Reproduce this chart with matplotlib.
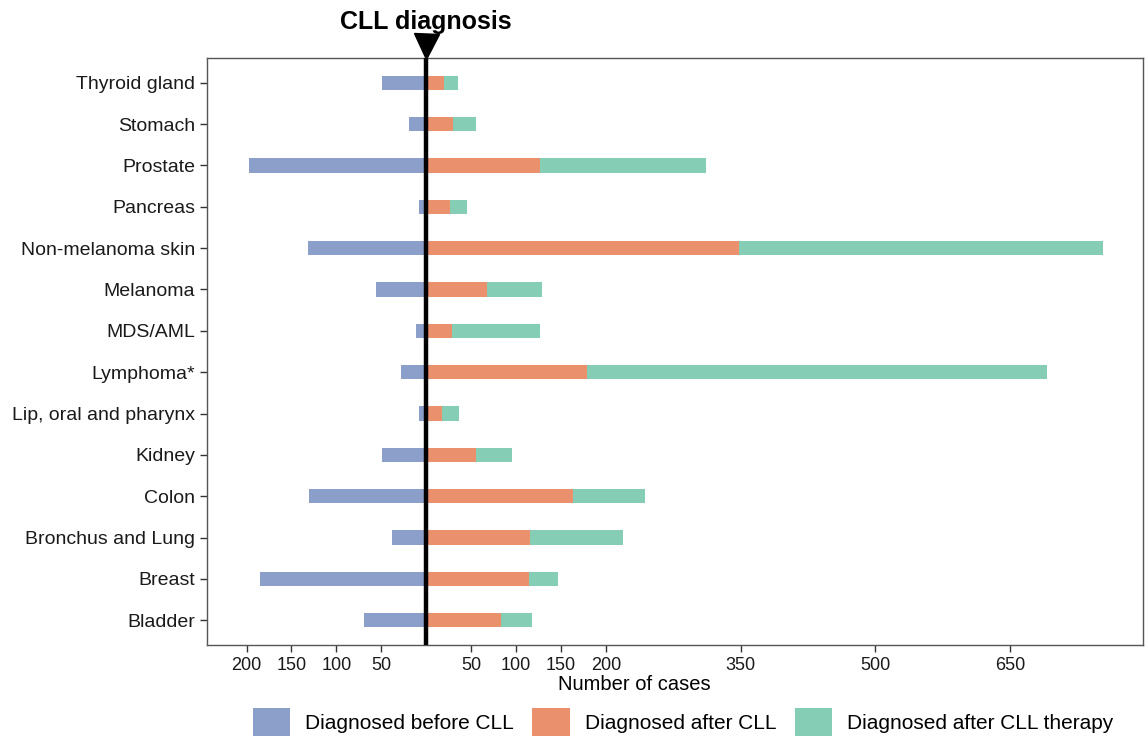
import matplotlib
matplotlib.use("Agg")
import matplotlib.pyplot as plt
from matplotlib.patches import Patch
from matplotlib.transforms import blended_transform_factory
import numpy as np

plt.rcParams['font.family'] = ['Liberation Sans', 'DejaVu Sans']

categories = ["Thyroid gland", "Stomach", "Prostate", "Pancreas", "Non-melanoma skin",
              "Melanoma", "MDS/AML", "Lymphoma*", "Lip, oral and pharynx", "Kidney",
              "Colon", "Bronchus and Lung", "Breast", "Bladder"]
before_cll = [49, 19, 197, 8, 132, 56, 11, 28, 8, 49, 130, 38, 185, 69]
after_cll = [20, 30, 127, 26, 348, 68, 29, 179, 18, 56, 163, 116, 114, 83]
after_therapy = [15, 26, 185, 19, 406, 61, 98, 512, 18, 39, 81, 103, 33, 35]

xticks = [-200, -150, -100, -50, 50, 100, 150, 200, 350, 500, 650]
xtick_labels = ["200", "150", "100", "50", "50", "100", "150", "200", "350", "500", "650"]
legend_labels = ["Diagnosed before CLL", "Diagnosed after CLL", "Diagnosed after CLL therapy"]
colors = ["#8C9FCA", "#EA906D", "#85CEB5"]

fig = plt.figure(figsize=(11.47, 7.38), dpi=100)
ax = fig.add_axes([207/1147, 1-645/738, (1143-207)/1147, (645-58)/738])

n = len(categories)
y = np.arange(n)[::-1]
h = 0.34
ax.barh(y, -np.array(before_cll), height=h, color=colors[0], edgecolor='none')
ax.barh(y, after_cll, height=h, color=colors[1], edgecolor='none')
ax.barh(y, after_therapy, left=after_cll, height=h, color=colors[2], edgecolor='none')

ax.axvline(0, color='black', lw=3.2, zorder=5)

ax.set_xlim(-244, 798)
ax.set_ylim(-0.6, n - 0.4)
ax.set_yticks(y)
ax.set_yticklabels(categories, fontsize=14, color='#1a1a1a')
ax.set_xticks(xticks)
ax.set_xticklabels(xtick_labels, fontsize=13, color='#1a1a1a')
ax.tick_params(axis='both', color='#333333', length=5, width=1)
for s in ax.spines.values():
    s.set_color('#555555')
    s.set_linewidth(1)
ax.set_xlabel("Number of cases", fontsize=14.5)
ax.xaxis.set_label_coords((634-207)/936, -40/587, transform=ax.transAxes)
ax.xaxis.label.set_va('center')

trans = blended_transform_factory(ax.transData, fig.transFigure)
ax.plot([0], [1 - 46/738], marker='v', markersize=18, color='black',
        transform=trans, clip_on=False)
fig.text(0, 1 - 22/738, "CLL diagnosis", transform=trans, ha='center', va='center',
         fontsize=18, fontweight='bold')

handles = [Patch(facecolor=c, edgecolor='none') for c in colors]
fig.legend(handles, legend_labels, loc='center', bbox_to_anchor=(683/1147, 1 - 722/738),
           ncol=3, frameon=False, fontsize=15, handlelength=1.8, handleheight=1.7,
           columnspacing=0.9, handletextpad=0.7)

fig.savefig("out.png", dpi=100)
